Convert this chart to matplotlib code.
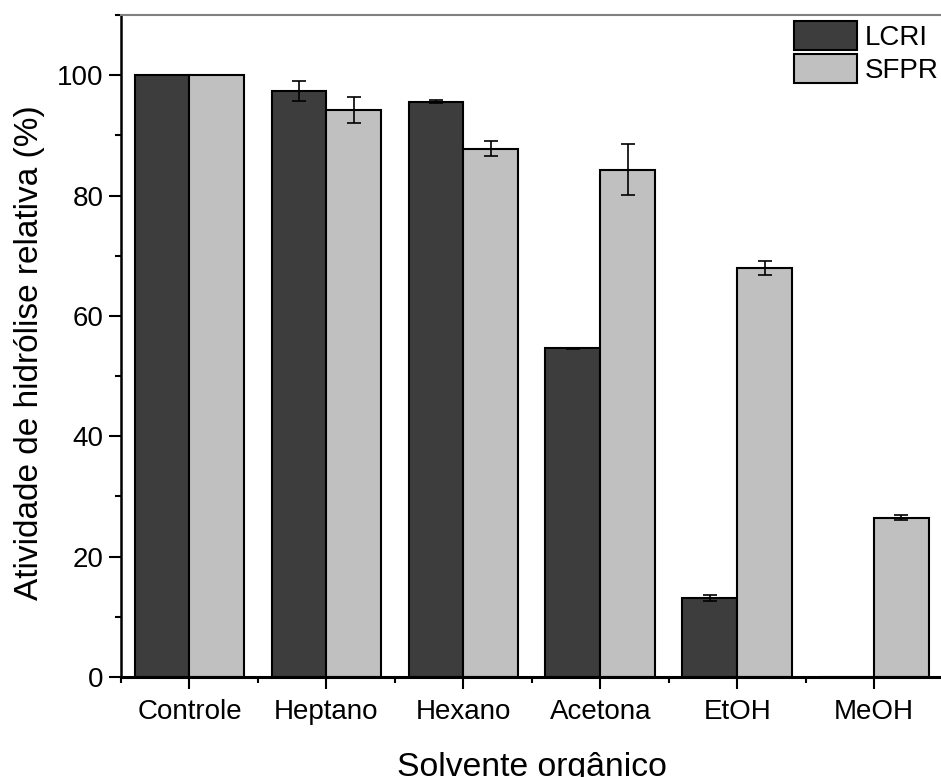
import matplotlib
matplotlib.use("Agg")
import matplotlib.pyplot as plt
import numpy as np

categories = ["Controle", "Heptano", "Hexano", "Acetona", "EtOH", "MeOH"]
lcri = [100.0, 97.4, 95.6, 54.6, 13.2, 0.0]
lcri_err = [0.0, 1.7, 0.3, 0.1, 0.5, 0.0]
sfpr = [100.0, 94.2, 87.8, 84.3, 68.0, 26.5]
sfpr_err = [0.0, 2.2, 1.2, 4.2, 1.2, 0.4]
series_names = ["LCRI", "SFPR"]

plt.rcParams['font.family'] = ['Liberation Sans', 'DejaVu Sans']

fig = plt.figure(figsize=(9.41, 7.77), dpi=100)
ax = fig.add_axes([121/941, 1-677/777, (942.5-121)/941, (677-15)/777])

x = np.arange(len(categories))
w = 0.4
ax.bar(x - w/2, lcri, w, color="#3d3d3d", edgecolor="black", linewidth=1.5,
       label=series_names[0], zorder=2)
ax.bar(x + w/2, sfpr, w, color="#c0c0c0", edgecolor="black", linewidth=1.5,
       label=series_names[1], zorder=2)
ax.errorbar(x - w/2, lcri, yerr=lcri_err, fmt="none", ecolor="black",
            elinewidth=1.2, capsize=4.7, capthick=1.2, zorder=3)
ax.errorbar(x + w/2, sfpr, yerr=sfpr_err, fmt="none", ecolor="black",
            elinewidth=1.2, capsize=4.7, capthick=1.2, zorder=3)

ax.set_xlim(-0.5, 5.5)
ax.set_ylim(0, 110)
ax.set_xticks(x)
ax.set_xticklabels(categories, fontsize=20)
ax.set_xticks(np.arange(-0.5, 6.0, 1.0), minor=True)
ax.set_yticks(np.arange(0, 101, 20))
ax.set_yticks(np.arange(10, 111, 20), minor=True)
ax.tick_params(axis="y", labelsize=20)
ax.tick_params(which="major", direction="out", length=8.5, width=1.5, pad=4)
ax.tick_params(which="minor", direction="out", length=4.3, width=1.5)
ax.tick_params(axis="x", which="major", pad=7)

ax.spines["right"].set_visible(False)
ax.spines["top"].set_color("#808080")
ax.spines["top"].set_linewidth(1.5)
ax.spines["left"].set_linewidth(1.8)
ax.spines["bottom"].set_linewidth(2.2)

ax.set_xlabel("Solvente orgânico", fontsize=24.3, labelpad=20)
ax.set_ylabel("Atividade de hidrólise relativa (%)", fontsize=24, labelpad=9)
ax.yaxis.set_label_coords(-0.092, 0.49)

leg = ax.legend(loc="upper left", bbox_to_anchor=(794/941, 1-21/777),
                bbox_transform=fig.transFigure, frameon=False,
                fontsize=20, handlelength=2.25, handleheight=1.25,
                handletextpad=0.3, labelspacing=0.1, borderpad=0,
                borderaxespad=0)

fig.savefig("out.png", dpi=100)
